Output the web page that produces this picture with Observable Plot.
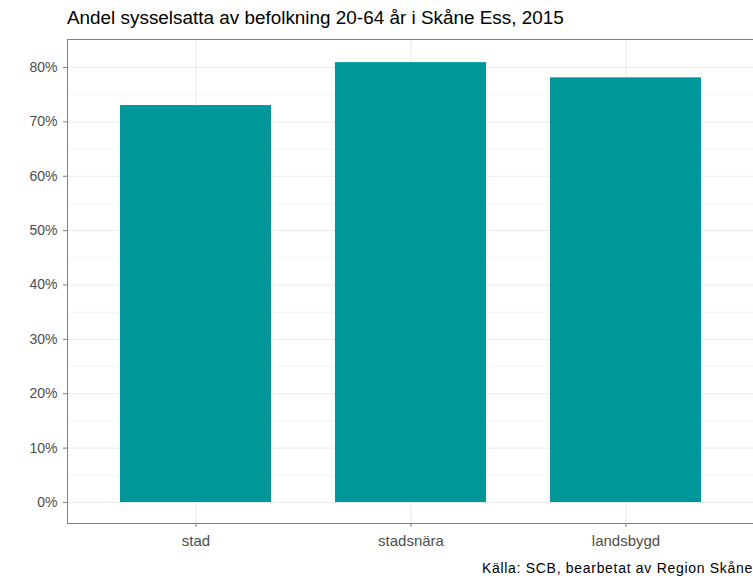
<!DOCTYPE html>
<html>
<head>
<meta charset="utf-8">
<script src="https://cdn.jsdelivr.net/npm/d3@7"></script>
<script src="https://cdn.jsdelivr.net/npm/@observablehq/plot@0.6"></script>
<style>
  body { margin: 0; background: #fff; font-family: "Liberation Sans", Arial, sans-serif; }
  #wrap { position: relative; width: 753px; height: 579px; overflow: hidden; }
  #title { position: absolute; left: 67px; top: 7px; font-size: 18.9px; color: #000; white-space: nowrap; }
  #caption { position: absolute; right: 0px; top: 560px; font-size: 14px; letter-spacing: 0.7px; color: #000; white-space: nowrap; }
  #chart { position: absolute; left: 0; top: 0; }
</style>
</head>
<body>
<div id="wrap">
  <div id="chart"></div>
  <div id="title">Andel sysselsatta av befolkning 20-64 år i Skåne Ess, 2015</div>
  <div id="caption">Källa: SCB, bearbetat av Region Skåne</div>
</div>
<script>
const categories = ["stad", "stadsnära", "landsbygd"];
const values = [73.0, 80.9, 78.1];
const yTicks = [0, 10, 20, 30, 40, 50, 60, 70, 80];
const yMinor = [5, 15, 25, 35, 45, 55, 65, 75];

const data = categories.map((c, i) => ({ category: c, value: values[i] }));

const chart = Plot.plot({
  width: 753,
  height: 579,
  marginLeft: 67,
  marginRight: 0,
  marginTop: 39,
  marginBottom: 56,
  style: { fontFamily: "Liberation Sans, Arial, sans-serif", background: "#fff" },
  x: { domain: categories, paddingInner: 0.3, paddingOuter: 0.245, label: null },
  y: { domain: [-3.86, 85.15], label: null },
  marks: [
    Plot.ruleY(yMinor, { stroke: "#f4f4f4", strokeWidth: 1 }),
    Plot.ruleY(yTicks, { stroke: "#ebebeb", strokeWidth: 1 }),
    Plot.ruleX(categories, { x: d => d, stroke: "#ebebeb", strokeWidth: 1 }),
    Plot.barY(data, { x: "category", y: "value", fill: "#00979a" }),
    Plot.frame({ stroke: "#808080", strokeWidth: 1 }),
    Plot.axisY({ ticks: yTicks, tickFormat: d => d + "%", tickSize: 4, tickPadding: 6, fontSize: 14, color: "#4d4d4d", stroke: "#808080" }),
    Plot.axisX({ tickSize: 4, tickPadding: 8, fontSize: 15, color: "#4d4d4d", stroke: "#808080" })
  ]
});
document.getElementById("chart").appendChild(chart);
</script>
</body>
</html>
